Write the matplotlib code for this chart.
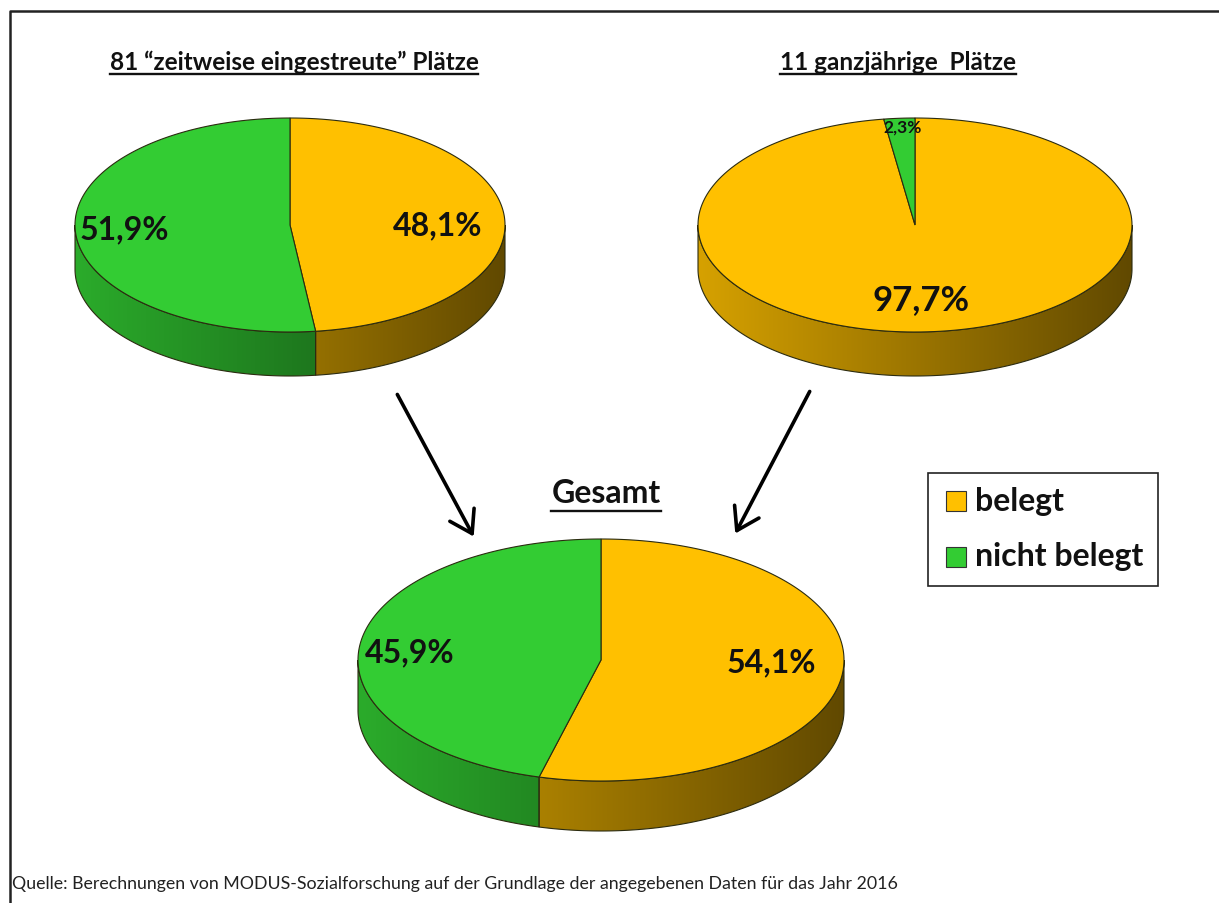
import numpy as np
import matplotlib
matplotlib.use("Agg")
import matplotlib.pyplot as plt
from matplotlib.patches import Polygon, Rectangle, FancyArrowPatch

plt.rcParams['font.family'] = ['Lato', 'DejaVu Sans']

# Daten
titel = ["81 \u201czeitweise eingestreute\u201d Plätze", "11 ganzjährige  Plätze", "Gesamt"]
kategorien = ["belegt", "nicht belegt"]
belegt = [48.1, 97.7, 54.1]
nicht_belegt = [51.9, 2.3, 45.9]
farben = ["#FFC000", "#33CC33"]
quelle = ("Quelle: Berechnungen von MODUS-Sozialforschung auf der Grundlage "
          "der angegebenen Daten für das Jahr 2016")

W, H = 1219, 904
fig = plt.figure(figsize=(W / 100, H / 100), dpi=100)
ax = fig.add_axes([0, 0, 1, 1])

RAND = "#2b2b10"


def punkt(cx, cy, rx, ry, t):
    t = np.radians(t)
    return cx + rx * np.cos(t), cy - ry * np.sin(t)


def torte_3d(cx, cy, rx, ry, tiefe, werte, farben):
    anteile = np.array(werte, dtype=float) / sum(werte)
    grenzen = 90 - 360 * np.concatenate([[0], np.cumsum(anteile)])
    for i, farbe in enumerate(farben):
        b, a = grenzen[i], grenzen[i + 1]   # a < b, im Uhrzeigersinn ab 12 Uhr
        rgb = np.array(matplotlib.colors.to_rgb(farbe))
        # Seitenwand (nur vorderer Teil sichtbar), Verlauf von hell nach dunkel
        lo, hi = max(a, -180), min(b, 0)
        if lo < hi:
            ts = np.linspace(lo, hi, 200)
            xt, yt = punkt(cx, cy, rx, ry, ts)
            rand_pts = np.column_stack([np.r_[xt, xt[::-1]],
                                        np.r_[yt, yt[::-1] + tiefe]])
            wand = Polygon(rand_pts, closed=True, facecolor="none",
                           edgecolor=RAND, lw=0.8, zorder=3)
            ax.add_patch(wand)
            rel = np.linspace(0, 1, 400)
            faktor = 0.84 - 0.46 * rel
            verlauf = np.clip(faktor[None, :, None] * rgb[None, None, :], 0, 1)
            im = ax.imshow(verlauf, extent=(cx - rx, cx + rx, cy + ry + tiefe + 2, cy - ry),
                           aspect="auto", interpolation="bilinear", zorder=2)
            im.set_clip_path(wand)
        # Oberseite
        ts = np.linspace(a, b, 200)
        xs, ys = punkt(cx, cy, rx, ry, ts)
        pts = np.column_stack([np.r_[cx, xs], np.r_[cy, ys]])
        ax.add_patch(Polygon(pts, closed=True, facecolor=farbe, edgecolor=RAND,
                             lw=0.8, zorder=4))


def prozent(v):
    return f"{v:.1f}".replace(".", ",") + "%"


# Torten
torte_3d(290, 226, 215, 107, 44, [belegt[0], nicht_belegt[0]], farben)
torte_3d(915, 226, 217, 107, 44, [belegt[1], nicht_belegt[1]], farben)
torte_3d(601, 661, 243, 121, 50, [belegt[2], nicht_belegt[2]], farben)

ax.set_xlim(0, W)
ax.set_ylim(H, 0)
ax.axis("off")

lab = dict(fontweight="bold", color="#111111", ha="center", va="center", zorder=6)
ax.text(438, 226, prozent(belegt[0]), fontsize=23, **lab)
ax.text(124, 230, prozent(nicht_belegt[0]), fontsize=23, **lab)
ax.text(921, 300, prozent(belegt[1]), fontsize=25, **lab)
ax.text(903, 128, prozent(nicht_belegt[1]), fontsize=12.5, **lab)
ax.text(771, 663, prozent(belegt[2]), fontsize=23, **lab)
ax.text(410, 653, prozent(nicht_belegt[2]), fontsize=23, **lab)


# Überschriften (unterstrichen)
def ueberschrift(x, y, s, size, ul):
    t = ax.text(x, y, s, fontsize=size, fontweight="bold", color="#111111",
                ha="center", va="center", zorder=6)
    fig.canvas.draw()
    bb = t.get_window_extent().transformed(ax.transData.inverted())
    ax.plot([bb.x0, bb.x1], [ul, ul], color="#111111", lw=1.7, zorder=6)


ueberschrift(294, 62, titel[0], 17.5, 75)
ueberschrift(898, 62, titel[1], 17.5, 75)
ueberschrift(606, 494, titel[2], 23, 512)

# Pfeile
for (x0, y0), (x1, y1) in [((396, 393), (475, 540)), ((811, 390), (734, 537))]:
    ax.add_patch(FancyArrowPatch((x0, y0), (x1, y1), arrowstyle="->,head_length=0.7,head_width=0.45",
                                 mutation_scale=22, lw=2.6, color="black", zorder=5))

# Legende
ax.add_patch(Rectangle((928, 474), 230, 113, facecolor="white", edgecolor="#222222",
                       lw=1.2, zorder=5))
for i, (k, f) in enumerate(zip(kategorien, farben)):
    y = 502 + i * 56
    ax.add_patch(Rectangle((946, y - 10), 20, 20, facecolor=f, edgecolor="#333333",
                           lw=0.8, zorder=6))
    ax.text(975, y - 1, k, fontsize=23, fontweight="bold", color="#111111",
            ha="left", va="center", zorder=6)

# Rahmen
ax.plot([10, 10, W + 5], [H + 5, 12, 12], color="#222222", lw=1.8, zorder=7)

ax.text(12, 884, quelle, fontsize=12.8, color="#222222", ha="left", va="center", zorder=6)

fig.savefig("out.png", dpi=100)
